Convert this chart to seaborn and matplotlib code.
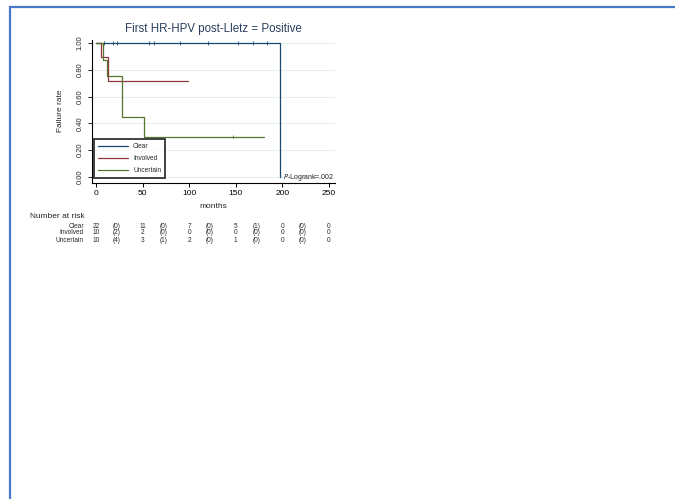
import matplotlib
matplotlib.use("Agg")
import matplotlib.pyplot as plt
import matplotlib.transforms as mtransforms
from matplotlib.lines import Line2D
import pandas as pd
import seaborn as sns

# Kaplan-Meier step data (time in months, estimate after the step)
groups = ["Clear", "Involved", "Uncertain"]
clear_t = [0, 197.5]
clear_s = [1.0, 0.0]
involved_t = [0, 5.7, 13, 98.5]
involved_s = [1.0, 0.893, 0.714, 0.714]
uncertain_t = [0, 7, 11.5, 27.5, 51, 180]
uncertain_s = [1.0, 0.875, 0.75, 0.45, 0.30, 0.30]

# censored observations
clear_cens_t = [8.5, 18, 22.5, 57, 62, 90, 120, 152, 168, 183]
clear_cens_s = [1.0] * 10
uncertain_cens_t = [147]
uncertain_cens_s = [0.30]

# number-at-risk table
risk_times = [0, 50, 100, 150, 200, 250]
clear_risk = [22, 11, 7, 5, 0, 0]
involved_risk = [10, 2, 0, 0, 0, 0]
uncertain_risk = [10, 3, 2, 1, 0, 0]
clear_events = [0, 0, 0, 1, 0]
involved_events = [2, 0, 0, 0, 0]
uncertain_events = [4, 1, 0, 0, 0]

title = "First HR-HPV post-Lletz = Positive"
pvalue_text = "=.002"

palette = {"Clear": "#1a476f", "Involved": "#90353b", "Uncertain": "#55752f"}

sns.set_style("white")
plt.rcParams["font.family"] = ["Liberation Sans", "DejaVu Sans"]

W, H = 675, 499
fig = plt.figure(figsize=(W / 100, H / 100), dpi=100)


def fx(px):
    return px / W


def fy(py):
    return 1 - py / H


# plot area
left, right, top, bottom = 92, 335, 40, 183
ax = fig.add_axes([fx(left), fy(bottom), fx(right - left), fy(top) - fy(bottom)])

curves = pd.concat([
    pd.DataFrame({"months": clear_t, "rate": clear_s, "group": "Clear"}),
    pd.DataFrame({"months": involved_t, "rate": involved_s, "group": "Involved"}),
    pd.DataFrame({"months": uncertain_t, "rate": uncertain_s, "group": "Uncertain"}),
], ignore_index=True)

cens = pd.concat([
    pd.DataFrame({"months": clear_cens_t, "rate": clear_cens_s, "group": "Clear"}),
    pd.DataFrame({"months": uncertain_cens_t, "rate": uncertain_cens_s, "group": "Uncertain"}),
], ignore_index=True)

for y in [0, 0.2, 0.4, 0.6, 0.8, 1.0]:
    ax.axhline(y, color="#e6eff0", lw=0.8, zorder=0)

sns.lineplot(data=curves, x="months", y="rate", hue="group", hue_order=groups,
             palette=palette, estimator=None, sort=False, drawstyle="steps-post",
             lw=0.9, ax=ax, legend=False)

sns.scatterplot(data=cens, x="months", y="rate", hue="group", hue_order=groups,
                palette=palette, marker="|", s=6, linewidth=0.6, ax=ax, legend=False)

ax.set_xlim(-4.3, 256.4)
ax.set_ylim(-0.045, 1.022)
ax.set_xticks([0, 50, 100, 150, 200, 250])
ax.set_yticks([0, 0.2, 0.4, 0.6, 0.8, 1.0])
ax.set_yticklabels([f"{v:.2f}" for v in [0, 0.2, 0.4, 0.6, 0.8, 1.0]],
                   rotation=90, va="center", fontsize=5.4)
ax.tick_params(axis="x", labelsize=6, length=3, width=0.7, pad=2, colors="black",
               bottom=True)
ax.tick_params(axis="y", length=3, width=0.7, pad=3, left=True)
for s in ["top", "right"]:
    ax.spines[s].set_visible(False)
for s in ["left", "bottom"]:
    ax.spines[s].set_color("black")
    ax.spines[s].set_linewidth(0.8)
ax.set_xlabel("")
ax.set_ylabel("")
ax.patch.set_alpha(0)

# legend
handles = [Line2D([0], [0], color=palette[g], lw=0.9) for g in groups]
leg = ax.legend(handles, groups, loc="lower left", bbox_to_anchor=(0.008, 0.035),
                borderaxespad=0, fontsize=4.7, handlelength=4.6, handletextpad=0.8,
                labelspacing=0.75, borderpad=0.6, frameon=True, fancybox=False)
leg.get_frame().set_edgecolor("black")
leg.get_frame().set_linewidth(1.3)

ax.text(0.995, 0.04, r"$\it{P}$-Logrank" + pvalue_text, transform=ax.transAxes,
        ha="right", va="center", fontsize=5.0)

# titles and axis labels
fig.text(fx((left + right) / 2), fy(29), title, ha="center", va="center",
         fontsize=8.3, color="#2a3f5f")
fig.text(fx(61), fy(111), "Failure rate", rotation=90, ha="center", va="center",
         fontsize=6)
fig.text(fx(213), fy(206), "months", ha="center", va="center", fontsize=6)

# number at risk table
fig.text(fx(30), fy(217), "Number at risk", ha="left", va="center", fontsize=6)
tr = mtransforms.blended_transform_factory(ax.transData, fig.transFigure)
rows = [("Clear", clear_risk, clear_events, 226),
        ("Involved", involved_risk, involved_events, 233),
        ("Uncertain", uncertain_risk, uncertain_events, 240)]
for name, risk, events, py in rows:
    fig.text(fx(84), fy(py), name, ha="right", va="center", fontsize=4.7)
    for t, n in zip(risk_times, risk):
        ax.text(t, fy(py), str(n), transform=tr, ha="center", va="center",
                fontsize=4.7, clip_on=False)
    for i, e in enumerate(events):
        mid = (risk_times[i] + risk_times[i + 1]) / 2 - 3
        ax.text(mid, fy(py), f"({e})", transform=tr, ha="center", va="center",
                fontsize=4.7, clip_on=False)

# frame lines along the top and left edge
fig.add_artist(Line2D([fx(9.5), 1], [fy(6.5), fy(6.5)], color="#4a78c8", lw=1.6,
                      transform=fig.transFigure))
fig.add_artist(Line2D([fx(9.5), fx(9.5)], [fy(6.5), 0], color="#4a78c8", lw=1.6,
                      transform=fig.transFigure))

fig.savefig("out.png", dpi=100)
